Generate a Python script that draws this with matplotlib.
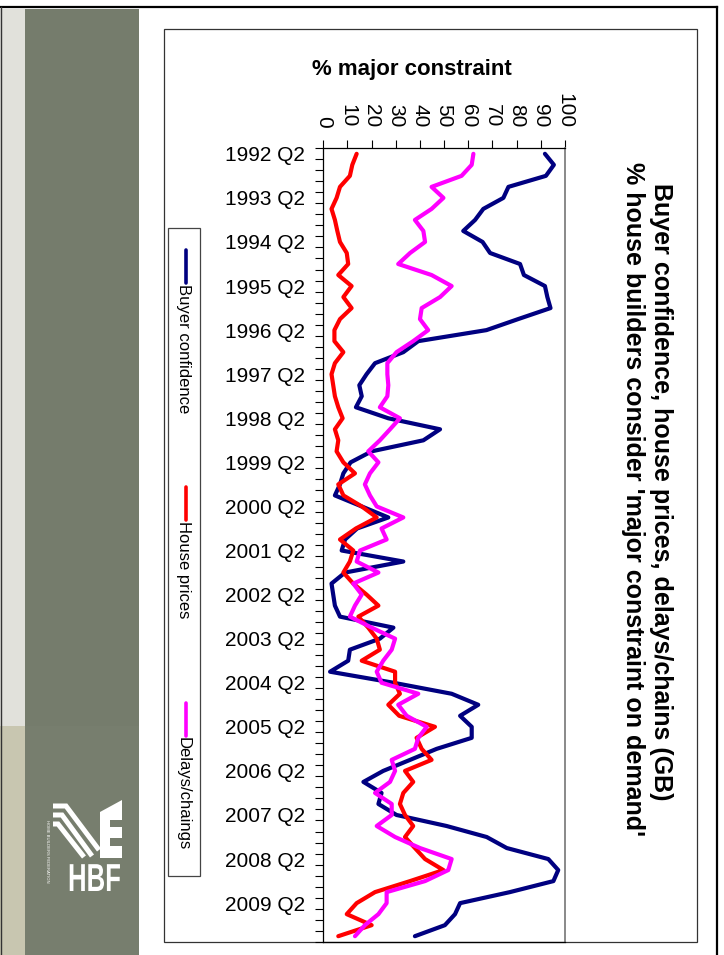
import matplotlib
matplotlib.use("Agg")
import matplotlib.pyplot as plt
from matplotlib.patches import Rectangle, Polygon, PathPatch
from matplotlib.textpath import TextPath
from matplotlib.font_manager import FontProperties
from matplotlib.transforms import Affine2D

plt.rcParams['font.family'] = ['Liberation Sans', 'DejaVu Sans']

# % of house builders citing each item as a 'major constraint', quarterly 1992 Q2 .. 2010 Q1
buyer_confidence = [91.7, 95.4, 92.1, 76.6, 74.5, 66.2, 62.8, 57.9, 65.9, 69.0, 81.4, 83.0,
                    91.7, 92.7, 94.0, 80.6, 67.5, 39.3, 33.1, 21.4, 17.9, 14.9, 15.9, 13.5,
                    26.9, 48.3, 41.4, 20.0, 11.3, 8.3, 6.9, 4.8, 15.9, 26.9, 14.0, 9.0,
                    7.6, 33.1, 9.0, 3.4, 4.1, 4.8, 6.9, 29.0, 23.4, 11.0, 10.3, 2.8,
                    29.0, 53.1, 64.1, 56.6, 61.4, 61.4, 46.9, 35.9, 24.8, 16.6, 24.1, 22.8,
                    30.3, 51.0, 67.6, 75.9, 93.1, 97.2, 95.2, 77.2, 56.6, 54.5, 50.3, 37.9]
house_prices = [13.8, 12.0, 11.0, 6.9, 5.5, 3.4, 4.8, 5.8, 6.9, 9.7, 10.3, 6.2,
                11.7, 8.3, 11.7, 6.9, 4.6, 4.6, 8.3, 4.8, 3.4, 4.1, 4.8, 6.2,
                8.0, 4.8, 6.2, 5.5, 8.3, 13.1, 6.2, 8.3, 15.9, 22.1, 13.5, 6.9,
                12.4, 11.0, 8.3, 12.4, 17.9, 22.8, 14.5, 18.6, 22.1, 23.4, 15.9, 29.7,
                29.7, 31.7, 26.9, 31.4, 46.2, 38.6, 40.7, 44.8, 33.8, 37.2, 33.1, 31.7,
                33.8, 37.2, 33.8, 37.9, 42.1, 49.7, 35.9, 21.4, 13.8, 9.7, 20.0, 6.2]
delays_chains = [62.1, 61.4, 57.2, 44.8, 49.7, 44.8, 37.9, 41.4, 42.1, 35.9, 31.0, 44.8,
                 53.1, 48.3, 40.7, 40.0, 43.4, 37.2, 30.3, 26.5, 26.5, 26.9, 26.5, 23.4,
                 31.7, 27.6, 23.4, 18.6, 22.8, 19.3, 17.2, 19.3, 22.1, 33.1, 24.1, 26.2,
                 15.2, 13.8, 22.8, 12.4, 15.9, 13.1, 11.0, 20.0, 29.7, 28.3, 24.8, 22.1,
                 24.1, 39.3, 31.0, 34.5, 42.8, 39.3, 37.9, 28.3, 29.7, 27.6, 21.4, 28.3,
                 28.3, 22.1, 29.7, 40.0, 53.1, 51.7, 42.1, 26.2, 26.2, 22.8, 17.2, 13.1]

year_labels = ["1992 Q2", "1993 Q2", "1994 Q2", "1995 Q2", "1996 Q2", "1997 Q2",
               "1998 Q2", "1999 Q2", "2000 Q2", "2001 Q2", "2002 Q2", "2003 Q2",
               "2004 Q2", "2005 Q2", "2006 Q2", "2007 Q2", "2008 Q2", "2009 Q2"]
series_names = ["Buyer confidence", "House prices", "Delays/chaings"]
series_colors = ["#000080", "#ff0000", "#ff00ff"]

W, H = 724, 955
fig = plt.figure(figsize=(W / 100, H / 100), dpi=100)

# background layer in pixel coordinates (slide decoration, frame, title, legend)
bg = fig.add_axes([0, 0, 1, 1], zorder=0)
bg.set_xlim(0, W)
bg.set_ylim(H, 0)
bg.axis("off")

bg.add_patch(Rectangle((0, 9), 25, 717, color="#e1e1db", lw=0))
bg.add_patch(Rectangle((0, 726), 25, 229, color="#c8c6b0", lw=0))
bg.add_patch(Rectangle((25, 9), 114, 717, color="#757c6c", lw=0))
bg.add_patch(Rectangle((25, 726), 114, 229, color="#777e6e", lw=0))
bg.plot([0, 717], [7.5, 7.5], color="black", lw=1.6)
bg.plot([716.5, 716.5], [7, H], color="black", lw=1.6)
bg.plot([0.7, 0.7], [7, H], color="#333333", lw=1)

# HBF logo (rough)
bands = [[(53, 806), (66, 806), (99, 850)],
         [(53, 815), (62, 815), (92, 856)],
         [(53, 824), (58, 824), (84, 857)]]
for pts in bands:
    xs, ys = zip(*pts)
    bg.plot(xs, ys, color="white", lw=3.6, solid_joinstyle="miter", solid_capstyle="butt")
bg.add_patch(Polygon([(100, 812), (122, 800), (122, 820), (110, 820), (110, 827), (122, 827),
                      (122, 838), (110, 838), (110, 846), (122, 846), (122, 858), (100, 858)],
                     closed=True, color="white", lw=0))
tp = TextPath((0, 0), "HBF", size=39, prop=FontProperties(family="Liberation Sans",
                                                           weight="bold"))
tr = Affine2D().scale(0.66, -1).translate(68, 891)
bg.add_patch(PathPatch(tr.transform_path(tp), color="white", lw=0))
bg.text(47, 851, "HOME BUILDERS FEDERATION", color="white", fontsize=3,
        rotation=-90, ha="center", va="center")

# chart area frame
bg.add_patch(Rectangle((164, 29), 533, 913, fill=False, edgecolor="#333333", lw=0.9))

# titles
bg.text(661, 492, "Buyer confidence, house prices, delays/chains (GB)", rotation=-90,
        fontsize=18, fontweight="bold", ha="center", va="center")
bg.text(633, 499, "% house builders consider 'major constraint on demand'", rotation=-90,
        fontsize=18, fontweight="bold", ha="center", va="center")
bg.text(412, 70, "% major constraint", fontsize=16, fontweight="bold",
        ha="center", va="center")

# legend
bg.add_patch(Rectangle((168, 228), 32, 648, fill=False, edgecolor="#444444", lw=0.9))
leg_starts = [250, 487, 703]
for name, col, y0 in zip(series_names, series_colors, leg_starts):
    bg.plot([186, 186], [y0, y0 + 33], color=col, lw=2.6, solid_capstyle="round")
    bg.text(183, y0 + 34, name, rotation=-90, fontsize=12, ha="center", va="top")

# main plot (drawn sideways: time runs downwards, values to the right)
ax = fig.add_axes([323.3 / W, 1 - 941.7 / H, (565 - 323.3) / W, (941.7 - 148.3) / H],
                  zorder=2)
ax.patch.set_alpha(0)
n = len(buyer_confidence)
idx = list(range(n))
for vals, col in zip([buyer_confidence, house_prices, delays_chains], series_colors):
    ax.plot(vals, idx, color=col, lw=3.0, solid_joinstyle="round", solid_capstyle="round",
            clip_on=False)

ax.set_xlim(0, 100)
ax.set_ylim(n - 0.5, -0.5)
ax.xaxis.tick_top()
ax.set_xticks(range(0, 101, 10))
ax.tick_params(axis="x", direction="out", length=5.8, width=0.8, pad=9,
               labelsize=15, labelrotation=-90)
ax.set_yticks([i - 0.5 for i in range(n + 1)])
ax.set_yticklabels([])
ax.set_yticks(list(range(0, n, 4))[:len(year_labels)], year_labels, minor=True)
ax.tick_params(axis="y", which="major", direction="out", length=5.8, width=0.8)
ax.tick_params(axis="y", which="minor", length=0, pad=13, labelsize=15)

for side in ["top", "left", "bottom"]:
    ax.spines[side].set_color("black")
    ax.spines[side].set_linewidth(0.9)
ax.spines["right"].set_color("#808080")
ax.spines["right"].set_linewidth(1.3)

fig.savefig("out.png", dpi=100)
